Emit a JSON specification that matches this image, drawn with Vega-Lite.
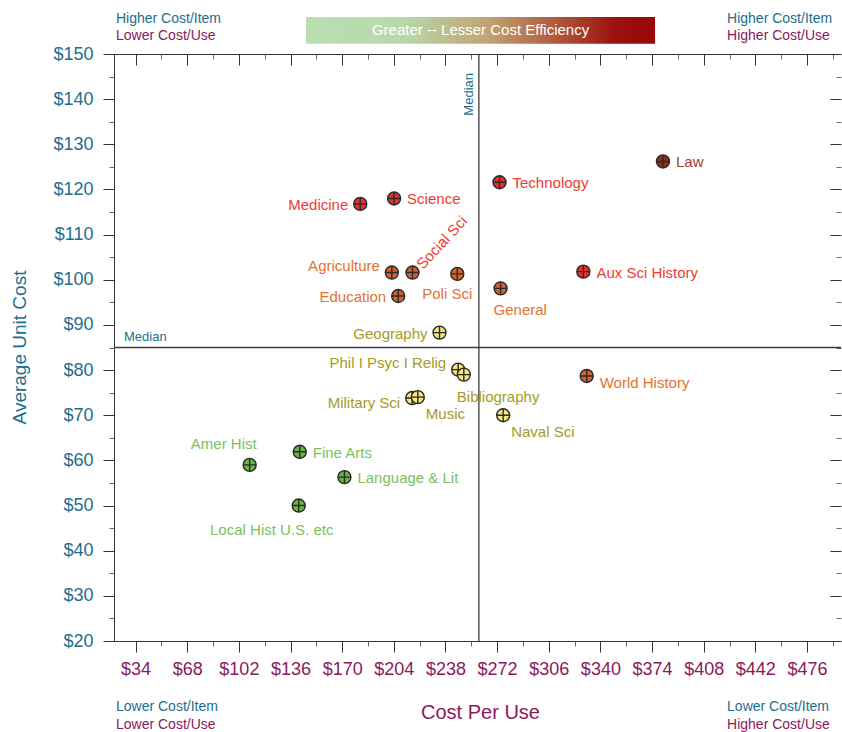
{
  "$schema": "https://vega.github.io/schema/vega-lite/v6.json",
  "width": 727,
  "height": 587,
  "autosize": "none",
  "padding": {"left": 114, "top": 54, "right": 1, "bottom": 91},
  "background": "white",
  "config": {
    "font": "Liberation Sans",
    "view": {"stroke": null},
    "axis": {"grid": false, "domainColor": "#333333", "tickColor": "#333333", "titleFontWeight": "normal", "labelOverlap": false, "labelFlush": false, "labelBound": false}
  },
  "datasets": {
    "subjects": [
      {"name": "Law", "cpu": 381.2, "cost": 126.2, "tier": "darkred", "spot": "right"},
      {"name": "Technology", "cpu": 273.6, "cost": 121.6, "tier": "red", "spot": "right"},
      {"name": "Science", "cpu": 204.2, "cost": 118.0, "tier": "red", "spot": "right"},
      {"name": "Medicine", "cpu": 181.9, "cost": 116.8, "tier": "red", "spot": "left"},
      {"name": "Aux Sci History", "cpu": 328.8, "cost": 101.8, "tier": "red", "spot": "right"},
      {"name": "Agriculture", "cpu": 202.7, "cost": 101.6, "tier": "orange", "spot": "upper-left"},
      {"name": "Social Sci", "cpu": 216.3, "cost": 101.6, "tier": "orange", "spot": "diagonal"},
      {"name": "Poli Sci", "cpu": 245.8, "cost": 101.3, "tier": "orange", "spot": "lower-left"},
      {"name": "Education", "cpu": 206.9, "cost": 96.4, "tier": "orange", "spot": "left"},
      {"name": "General", "cpu": 274.3, "cost": 98.1, "tier": "orange", "spot": "below"},
      {"name": "World History", "cpu": 331.0, "cost": 78.7, "tier": "orange", "spot": "lower-right"},
      {"name": "Geography", "cpu": 234.1, "cost": 88.3, "tier": "yellow", "spot": "left"},
      {"name": "Phil I Psyc I Relig", "cpu": 246.4, "cost": 80.1, "tier": "yellow", "spot": "upper-left"},
      {"name": "Bibliography", "cpu": 250.1, "cost": 79.0, "tier": "yellow", "spot": "below"},
      {"name": "Military Sci", "cpu": 216.1, "cost": 73.8, "tier": "yellow", "spot": "left-low"},
      {"name": "Music", "cpu": 219.8, "cost": 74.0, "tier": "yellow", "spot": "below-right"},
      {"name": "Naval Sci", "cpu": 276.0, "cost": 70.0, "tier": "yellow", "spot": "below-right"},
      {"name": "Amer Hist", "cpu": 109.1, "cost": 59.0, "tier": "green", "spot": "above-left"},
      {"name": "Fine Arts", "cpu": 142.1, "cost": 61.9, "tier": "green", "spot": "right"},
      {"name": "Language & Lit", "cpu": 171.5, "cost": 56.3, "tier": "green", "spot": "right"},
      {"name": "Local Hist U.S. etc", "cpu": 141.4, "cost": 50.0, "tier": "green", "spot": "below-center"}
    ],
    "medians": [{"medianCpu": 260, "medianCost": 85}],
    "corners": [
      {"note": "Higher Cost/Item", "cpu": 21.1, "cost": 157.86, "about": "item"},
      {"note": "Lower Cost/Use", "cpu": 21.1, "cost": 153.99, "about": "use"},
      {"note": "Higher Cost/Item", "cpu": 423.4, "cost": 157.86, "about": "item"},
      {"note": "Higher Cost/Use", "cpu": 423.4, "cost": 153.99, "about": "use"},
      {"note": "Lower Cost/Item", "cpu": 21.1, "cost": 5.3, "about": "item"},
      {"note": "Lower Cost/Use", "cpu": 21.1, "cost": 1.5, "about": "use"},
      {"note": "Lower Cost/Item", "cpu": 423.4, "cost": 5.3, "about": "item"},
      {"note": "Higher Cost/Use", "cpu": 423.4, "cost": 1.5, "about": "use"}
    ],
    "banner": [
      {"label": "Greater -- Lesser Cost Efficiency", "cpu": 146.2, "cpu2": 376.0, "cost": 158.19, "cost2": 152.28, "cpuMid": 261.1, "costMid": 155.3}
    ]
  },
  "resolve": {"axis": {"x": "independent", "y": "independent"}},
  "layer": [
    {
      "data": {"name": "medians"},
      "mark": {"type": "rule", "color": "#3a3a3a", "strokeWidth": 1.3},
      "encoding": {
        "x": {"field": "medianCpu", "type": "quantitative", "scale": {"domain": [19.8, 498.4], "nice": false, "zero": false}, "axis": null}
      }
    },
    {
      "data": {"name": "medians"},
      "mark": {"type": "rule", "color": "#3a3a3a", "strokeWidth": 1.3},
      "encoding": {
        "y": {"field": "medianCost", "type": "quantitative", "scale": {"domain": [20, 150], "nice": false, "zero": false}, "axis": null}
      }
    },
    {
      "data": {"name": "medians"},
      "mark": {"type": "text", "text": "Median", "angle": 270, "align": "right", "baseline": "alphabetic", "dx": -19, "dy": -6, "fontSize": 13, "color": "#1d6e8e"},
      "encoding": {
        "x": {"field": "medianCpu", "type": "quantitative", "scale": {"domain": [19.8, 498.4], "nice": false, "zero": false}, "axis": null},
        "y": {"datum": 150, "type": "quantitative", "scale": {"domain": [20, 150], "nice": false, "zero": false}, "axis": null}
      }
    },
    {
      "data": {"name": "medians"},
      "mark": {"type": "text", "text": "Median", "align": "left", "baseline": "alphabetic", "dx": 10, "dy": -7, "fontSize": 13, "color": "#1d6e8e"},
      "encoding": {
        "x": {"datum": 19.8, "type": "quantitative", "scale": {"domain": [19.8, 498.4], "nice": false, "zero": false}, "axis": null},
        "y": {"field": "medianCost", "type": "quantitative", "scale": {"domain": [20, 150], "nice": false, "zero": false}, "axis": null}
      }
    },
    {
      "data": {"name": "subjects"},
      "mark": {"type": "point", "shape": "M-1,0A1,1,0,1,1,1,0A1,1,0,1,1,-1,0ZM-1,0L1,0M0,-1L0,1", "size": 169, "filled": true, "stroke": "#2a2a2a", "strokeWidth": 1.4, "opacity": 1, "fillOpacity": 1},
      "encoding": {
        "x": {"field": "cpu", "type": "quantitative", "scale": {"domain": [19.8, 498.4], "nice": false, "zero": false},
          "axis": {"orient": "bottom", "values": [34, 68, 102, 136, 170, 204, 238, 272, 306, 340, 374, 408, 442, 476], "labelExpr": "'$' + datum.value", "labelFontSize": 18, "labelColor": "#8b1a5a", "labelPadding": 8, "tickSize": 11, "title": "Cost Per Use", "titleFontSize": 20, "titleColor": "#8b1a5a", "titleBaseline": "alphabetic", "titleY": 77, "titleX": 366}},
        "y": {"field": "cost", "type": "quantitative", "scale": {"domain": [20, 150], "nice": false, "zero": false},
          "axis": {"orient": "left", "values": [20, 30, 40, 50, 60, 70, 80, 90, 100, 110, 120, 130, 140, 150], "labelExpr": "'$' + datum.value", "labelFontSize": 18, "labelColor": "#1d6e8e", "labelPadding": 10, "tickSize": 11, "title": "Average Unit Cost", "titleFontSize": 19, "titleColor": "#1d6e8e", "titleAngle": 270, "titleBaseline": "alphabetic", "titleX": -89, "titleY": 293}},
        "fill": {"field": "tier", "type": "nominal", "scale": {"domain": ["green", "yellow", "orange", "red", "darkred"], "range": ["#6cb446", "#f7e67a", "#d2622a", "#e5302b", "#8e2d20"]}, "legend": null}
      }
    },
    {
      "data": {"name": "subjects"},
      "transform": [{"filter": "datum.spot === 'right'"}],
      "mark": {"type": "text", "align": "left", "baseline": "middle", "dx": 13, "dy": 1, "fontSize": 15},
      "encoding": {
        "x": {"field": "cpu", "type": "quantitative", "scale": {"domain": [19.8, 498.4], "nice": false, "zero": false},
          "axis": {"orient": "bottom", "values": [51, 85, 119, 153, 187, 221, 255, 289, 323, 357, 391, 425, 459, 493], "tickSize": 5, "labels": false, "domain": false, "title": null, "tickColor": "#666666"}},
        "y": {"field": "cost", "type": "quantitative", "scale": {"domain": [20, 150], "nice": false, "zero": false},
          "axis": {"orient": "left", "values": [25, 35, 45, 55, 65, 75, 85, 95, 105, 115, 125, 135, 145], "tickSize": 5, "labels": false, "domain": false, "title": null, "tickColor": "#666666"}},
        "text": {"field": "name"},
        "color": {"field": "tier", "type": "nominal", "scale": {"domain": ["green", "yellow", "orange", "red", "darkred", "item", "use"], "range": ["#7ac25b", "#a39c24", "#e27232", "#f03a33", "#a33d2d", "#1d6e8e", "#8b1a5a"]}, "legend": null}
      }
    },
    {
      "data": {"name": "subjects"},
      "transform": [{"filter": "datum.spot === 'left'"}],
      "mark": {"type": "text", "align": "right", "baseline": "middle", "dx": -12, "dy": 1, "fontSize": 15},
      "encoding": {
        "x": {"field": "cpu", "type": "quantitative", "scale": {"domain": [19.8, 498.4], "nice": false, "zero": false},
          "axis": {"orient": "top", "values": [34, 68, 102, 136, 170, 204, 238, 272, 306, 340, 374, 408, 442, 476], "tickSize": -11, "labels": false, "domain": true, "title": null}},
        "y": {"field": "cost", "type": "quantitative", "scale": {"domain": [20, 150], "nice": false, "zero": false},
          "axis": {"orient": "right", "values": [20, 30, 40, 50, 60, 70, 80, 90, 100, 110, 120, 130, 140, 150], "tickSize": -11, "labels": false, "domain": false, "title": null}},
        "text": {"field": "name"},
        "color": {"field": "tier", "type": "nominal", "scale": {"domain": ["green", "yellow", "orange", "red", "darkred", "item", "use"], "range": ["#7ac25b", "#a39c24", "#e27232", "#f03a33", "#a33d2d", "#1d6e8e", "#8b1a5a"]}, "legend": null}
      }
    },
    {
      "data": {"name": "subjects"},
      "transform": [{"filter": "datum.spot === 'upper-left'"}],
      "mark": {"type": "text", "align": "right", "baseline": "middle", "dx": -12, "dy": -6.5, "fontSize": 15},
      "encoding": {
        "x": {"field": "cpu", "type": "quantitative", "scale": {"domain": [19.8, 498.4], "nice": false, "zero": false},
          "axis": {"orient": "top", "values": [51, 85, 119, 153, 187, 221, 255, 289, 323, 357, 391, 425, 459, 493], "tickSize": -5, "labels": false, "domain": false, "title": null, "tickColor": "#666666"}},
        "y": {"field": "cost", "type": "quantitative", "scale": {"domain": [20, 150], "nice": false, "zero": false},
          "axis": {"orient": "right", "values": [25, 35, 45, 55, 65, 75, 85, 95, 105, 115, 125, 135, 145], "tickSize": -5, "labels": false, "domain": false, "title": null, "tickColor": "#666666"}},
        "text": {"field": "name"},
        "color": {"field": "tier", "type": "nominal", "scale": {"domain": ["green", "yellow", "orange", "red", "darkred", "item", "use"], "range": ["#7ac25b", "#a39c24", "#e27232", "#f03a33", "#a33d2d", "#1d6e8e", "#8b1a5a"]}, "legend": null}
      }
    },
    {
      "data": {"name": "subjects"},
      "transform": [{"filter": "datum.spot === 'lower-right'"}],
      "mark": {"type": "text", "align": "left", "baseline": "middle", "dx": 13, "dy": 7, "fontSize": 15},
      "encoding": {
        "x": {"field": "cpu", "type": "quantitative", "scale": {"domain": [19.8, 498.4], "nice": false, "zero": false}, "axis": null},
        "y": {"field": "cost", "type": "quantitative", "scale": {"domain": [20, 150], "nice": false, "zero": false}, "axis": null},
        "text": {"field": "name"},
        "color": {"field": "tier", "type": "nominal", "scale": {"domain": ["green", "yellow", "orange", "red", "darkred", "item", "use"], "range": ["#7ac25b", "#a39c24", "#e27232", "#f03a33", "#a33d2d", "#1d6e8e", "#8b1a5a"]}, "legend": null}
      }
    },
    {
      "data": {"name": "subjects"},
      "transform": [{"filter": "datum.spot === 'left-low'"}],
      "mark": {"type": "text", "align": "right", "baseline": "middle", "dx": -12, "dy": 5, "fontSize": 15},
      "encoding": {
        "x": {"field": "cpu", "type": "quantitative", "scale": {"domain": [19.8, 498.4], "nice": false, "zero": false}, "axis": null},
        "y": {"field": "cost", "type": "quantitative", "scale": {"domain": [20, 150], "nice": false, "zero": false}, "axis": null},
        "text": {"field": "name"},
        "color": {"field": "tier", "type": "nominal", "scale": {"domain": ["green", "yellow", "orange", "red", "darkred", "item", "use"], "range": ["#7ac25b", "#a39c24", "#e27232", "#f03a33", "#a33d2d", "#1d6e8e", "#8b1a5a"]}, "legend": null}
      }
    },
    {
      "data": {"name": "subjects"},
      "transform": [{"filter": "datum.spot === 'below'"}],
      "mark": {"type": "text", "align": "left", "baseline": "middle", "dx": -7, "dy": 22, "fontSize": 15},
      "encoding": {
        "x": {"field": "cpu", "type": "quantitative", "scale": {"domain": [19.8, 498.4], "nice": false, "zero": false}, "axis": null},
        "y": {"field": "cost", "type": "quantitative", "scale": {"domain": [20, 150], "nice": false, "zero": false}, "axis": null},
        "text": {"field": "name"},
        "color": {"field": "tier", "type": "nominal", "scale": {"domain": ["green", "yellow", "orange", "red", "darkred", "item", "use"], "range": ["#7ac25b", "#a39c24", "#e27232", "#f03a33", "#a33d2d", "#1d6e8e", "#8b1a5a"]}, "legend": null}
      }
    },
    {
      "data": {"name": "subjects"},
      "transform": [{"filter": "datum.spot === 'below-right'"}],
      "mark": {"type": "text", "align": "left", "baseline": "middle", "dx": 8, "dy": 17, "fontSize": 15},
      "encoding": {
        "x": {"field": "cpu", "type": "quantitative", "scale": {"domain": [19.8, 498.4], "nice": false, "zero": false}, "axis": null},
        "y": {"field": "cost", "type": "quantitative", "scale": {"domain": [20, 150], "nice": false, "zero": false}, "axis": null},
        "text": {"field": "name"},
        "color": {"field": "tier", "type": "nominal", "scale": {"domain": ["green", "yellow", "orange", "red", "darkred", "item", "use"], "range": ["#7ac25b", "#a39c24", "#e27232", "#f03a33", "#a33d2d", "#1d6e8e", "#8b1a5a"]}, "legend": null}
      }
    },
    {
      "data": {"name": "subjects"},
      "transform": [{"filter": "datum.spot === 'lower-left'"}],
      "mark": {"type": "text", "align": "right", "baseline": "middle", "dx": 15, "dy": 20, "fontSize": 15},
      "encoding": {
        "x": {"field": "cpu", "type": "quantitative", "scale": {"domain": [19.8, 498.4], "nice": false, "zero": false}, "axis": null},
        "y": {"field": "cost", "type": "quantitative", "scale": {"domain": [20, 150], "nice": false, "zero": false}, "axis": null},
        "text": {"field": "name"},
        "color": {"field": "tier", "type": "nominal", "scale": {"domain": ["green", "yellow", "orange", "red", "darkred", "item", "use"], "range": ["#7ac25b", "#a39c24", "#e27232", "#f03a33", "#a33d2d", "#1d6e8e", "#8b1a5a"]}, "legend": null}
      }
    },
    {
      "data": {"name": "subjects"},
      "transform": [{"filter": "datum.spot === 'above-left'"}],
      "mark": {"type": "text", "align": "right", "baseline": "middle", "dx": 7, "dy": -21, "fontSize": 15},
      "encoding": {
        "x": {"field": "cpu", "type": "quantitative", "scale": {"domain": [19.8, 498.4], "nice": false, "zero": false}, "axis": null},
        "y": {"field": "cost", "type": "quantitative", "scale": {"domain": [20, 150], "nice": false, "zero": false}, "axis": null},
        "text": {"field": "name"},
        "color": {"field": "tier", "type": "nominal", "scale": {"domain": ["green", "yellow", "orange", "red", "darkred", "item", "use"], "range": ["#7ac25b", "#a39c24", "#e27232", "#f03a33", "#a33d2d", "#1d6e8e", "#8b1a5a"]}, "legend": null}
      }
    },
    {
      "data": {"name": "subjects"},
      "transform": [{"filter": "datum.spot === 'below-center'"}],
      "mark": {"type": "text", "align": "center", "baseline": "middle", "dx": -27, "dy": 24, "fontSize": 15},
      "encoding": {
        "x": {"field": "cpu", "type": "quantitative", "scale": {"domain": [19.8, 498.4], "nice": false, "zero": false}, "axis": null},
        "y": {"field": "cost", "type": "quantitative", "scale": {"domain": [20, 150], "nice": false, "zero": false}, "axis": null},
        "text": {"field": "name"},
        "color": {"field": "tier", "type": "nominal", "scale": {"domain": ["green", "yellow", "orange", "red", "darkred", "item", "use"], "range": ["#7ac25b", "#a39c24", "#e27232", "#f03a33", "#a33d2d", "#1d6e8e", "#8b1a5a"]}, "legend": null}
      }
    },
    {
      "data": {"name": "subjects"},
      "transform": [{"filter": "datum.spot === 'diagonal'"}],
      "mark": {"type": "text", "align": "left", "baseline": "middle", "angle": 313, "dx": 9, "dy": 1, "fontSize": 15, "color": "#f03a33"},
      "encoding": {
        "x": {"field": "cpu", "type": "quantitative", "scale": {"domain": [19.8, 498.4], "nice": false, "zero": false}, "axis": null},
        "y": {"field": "cost", "type": "quantitative", "scale": {"domain": [20, 150], "nice": false, "zero": false}, "axis": null},
        "text": {"field": "name"}
      }
    },
    {
      "data": {"name": "corners"},
      "mark": {"type": "text", "align": "left", "baseline": "middle", "fontSize": 14},
      "encoding": {
        "x": {"field": "cpu", "type": "quantitative", "scale": {"domain": [19.8, 498.4], "nice": false, "zero": false}, "axis": null},
        "y": {"field": "cost", "type": "quantitative", "scale": {"domain": [20, 150], "nice": false, "zero": false}, "axis": null},
        "text": {"field": "note"},
        "color": {"field": "about", "type": "nominal", "scale": {"domain": ["green", "yellow", "orange", "red", "darkred", "item", "use"], "range": ["#7ac25b", "#a39c24", "#e27232", "#f03a33", "#a33d2d", "#1d6e8e", "#8b1a5a"]}, "legend": null}
      }
    },
    {
      "data": {"name": "banner"},
      "mark": {"type": "rect", "fill": {"gradient": "linear", "x1": 0, "y1": 0, "x2": 1, "y2": 0, "stops": [
        {"offset": 0, "color": "#b9dfb3"},
        {"offset": 0.28, "color": "#b8d8aa"},
        {"offset": 0.52, "color": "#c0a473"},
        {"offset": 0.75, "color": "#ad4c32"},
        {"offset": 0.88, "color": "#9c1210"},
        {"offset": 1, "color": "#990606"}
      ]}},
      "encoding": {
        "x": {"field": "cpu", "type": "quantitative", "scale": {"domain": [19.8, 498.4], "nice": false, "zero": false}, "axis": null},
        "x2": {"field": "cpu2"},
        "y": {"field": "cost", "type": "quantitative", "scale": {"domain": [20, 150], "nice": false, "zero": false}, "axis": null},
        "y2": {"field": "cost2"}
      }
    },
    {
      "data": {"name": "banner"},
      "mark": {"type": "text", "align": "center", "baseline": "middle", "fontSize": 15, "color": "white"},
      "encoding": {
        "x": {"field": "cpuMid", "type": "quantitative", "scale": {"domain": [19.8, 498.4], "nice": false, "zero": false}, "axis": null},
        "y": {"field": "costMid", "type": "quantitative", "scale": {"domain": [20, 150], "nice": false, "zero": false}, "axis": null},
        "text": {"field": "label"}
      }
    }
  ]
}
